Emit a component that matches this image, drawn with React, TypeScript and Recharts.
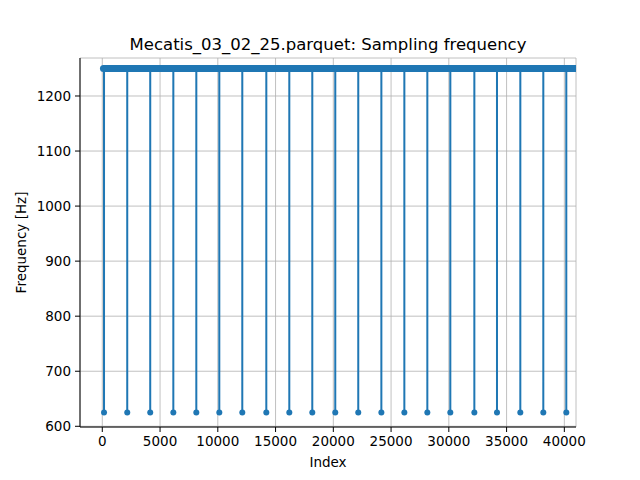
import React from 'react';
import {
  LineChart,
  Line,
  CartesianGrid,
  XAxis,
  YAxis,
} from 'recharts';

// indices where the sampling frequency drops
const dipIndex = [
  150, 2160, 4150, 6150, 8140, 10130, 12120, 14200, 16190, 18180, 20170,
  22160, 24160, 26150, 28140, 30130, 32210, 34170, 36190, 38180, 40170,
];
const baseFreq = 1250;
const dipFreq = 625;
const firstIndex = 100;
const lastIndex = 41300;

const xTicks = [0, 5000, 10000, 15000, 20000, 25000, 30000, 35000, 40000];
const yTicks = [600, 700, 800, 900, 1000, 1100, 1200];

const title = 'Mecatis_03_02_25.parquet: Sampling frequency';

const BLUE = '#1f77b4';
const FONT = 'DejaVu Sans, sans-serif';

const rows: { x: number; freq: number }[] = [{ x: firstIndex, freq: baseFreq }];
dipIndex.forEach((d) => {
  rows.push({ x: d - 1, freq: baseFreq });
  rows.push({ x: d, freq: dipFreq });
  rows.push({ x: d + 1, freq: baseFreq });
});
rows.push({ x: lastIndex, freq: baseFreq });

const band = [
  { x: firstIndex, freq: baseFreq },
  { x: lastIndex, freq: baseFreq },
];

const DipDot = (props: any) => {
  const { cx, cy, payload, index } = props;
  if (payload.freq !== dipFreq) return <g key={index} />;
  return <circle key={index} cx={cx} cy={cy} r={3} fill={BLUE} />;
};

const tickStyle = { fontFamily: FONT, fontSize: 13.5, fill: '#000' };

// x label plus the chart title (title sits centred over the plot area)
const XLabel = (p: any) => {
  const cx = p.viewBox.x + p.viewBox.width / 2;
  return (
    <g>
      <text
        x={cx}
        y={462}
        textAnchor="middle"
        dominantBaseline="central"
        style={{ fontFamily: FONT, fontSize: 13.5 }}
      >
        Index
      </text>
      <text
        x={cx}
        y={44}
        textAnchor="middle"
        dominantBaseline="central"
        style={{ fontFamily: FONT, fontSize: 16.5 }}
      >
        {title}
      </text>
    </g>
  );
};

export default function App() {
  return (
    <div style={{ position: 'absolute', left: 0, top: 0, background: '#fff' }}>
      <LineChart
        width={640}
        height={480}
        margin={{ top: 58, right: 64, bottom: 3, left: 0 }}
      >
        <CartesianGrid stroke="#b0b0b0" strokeWidth={0.8} xAxisId="bottom" yAxisId="left" />
        <XAxis
          xAxisId="bottom"
          dataKey="x"
          type="number"
          domain={[-1930, 41010]}
          allowDataOverflow
          ticks={xTicks}
          interval={0}
          height={50}
          tick={tickStyle}
          tickSize={5}
          tickMargin={4}
          stroke="#000"
          label={XLabel}
        />
        <XAxis
          xAxisId="top"
          orientation="top"
          dataKey="x"
          type="number"
          domain={[-1930, 41010]}
          allowDataOverflow
          height={0}
          tick={false}
          tickLine={false}
          stroke="#000"
        />
        <YAxis
          yAxisId="left"
          type="number"
          domain={[598.7, 1269]}
          allowDataOverflow
          ticks={yTicks}
          interval={0}
          width={80}
          tick={tickStyle}
          tickSize={5}
          tickMargin={4}
          stroke="#000"
          label={(p: any) => {
            const cx = 21;
            const cy = p.viewBox.y + p.viewBox.height / 2;
            return (
              <text
                x={cx}
                y={cy}
                transform={`rotate(-90, ${cx}, ${cy})`}
                textAnchor="middle"
                dominantBaseline="central"
                style={{ fontFamily: FONT, fontSize: 13.5 }}
              >
                Frequency [Hz]
              </text>
            );
          }}
        />
        <YAxis
          yAxisId="right"
          orientation="right"
          type="number"
          domain={[598.7, 1269]}
          width={0}
          tick={false}
          tickLine={false}
          stroke="#000"
        />
        <Line
          xAxisId="bottom"
          yAxisId="left"
          data={band}
          dataKey="freq"
          type="linear"
          stroke={BLUE}
          strokeWidth={7}
          strokeLinecap="round"
          dot={false}
          activeDot={false}
          isAnimationActive={false}
        />
        <Line
          xAxisId="bottom"
          yAxisId="left"
          data={rows}
          dataKey="freq"
          type="linear"
          stroke={BLUE}
          strokeWidth={2}
          dot={DipDot}
          activeDot={false}
          isAnimationActive={false}
        />
      </LineChart>
    </div>
  );
}
